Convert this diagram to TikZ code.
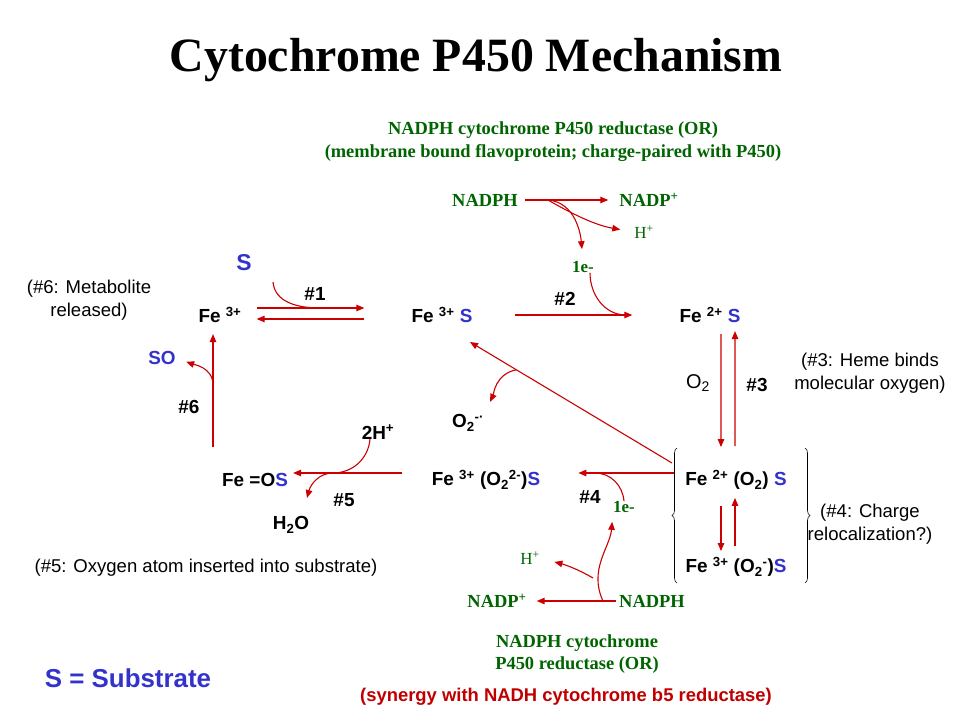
\documentclass[tikz,border=0pt]{standalone}
\usepackage{fontspec}
\setmainfont{Liberation Serif}
\setsansfont{Liberation Sans}
\usetikzlibrary{arrows.meta,decorations.pathreplacing}
\definecolor{sblue}{RGB}{51,51,204}
\definecolor{rxred}{RGB}{204,0,0}
\definecolor{orgreen}{RGB}{0,100,0}
\definecolor{synred}{RGB}{192,0,0}

\begin{document}
\begin{tikzpicture}[x=1bp, y=-1bp,
  every node/.style={inner sep=0pt, font=\sffamily\bfseries\fontsize{19}{22}\selectfont},
  rxline/.style={draw=rxred, line width=1.1bp},
  rxn/.style={rxline, -{Triangle[length=8bp,width=6.5bp]}},
  note/.style={align=center, font=\sffamily\fontsize{18.6}{22.5}\selectfont},
  enz/.style={text=orgreen, font=\rmfamily\bfseries\fontsize{18.5}{23}\selectfont},
  hion/.style={text=orgreen, font=\rmfamily\fontsize{17}{18}\selectfont},
  brk/.style={decorate, decoration={brace, amplitude=5bp}, line width=0.6bp}]

\path[use as bounding box, fill=white] (0,0) rectangle (960,720);

% -------- Title -----------
\node[font=\rmfamily\bfseries\fontsize{48}{50}\selectfont, anchor=base] (title)  at  (476, 72) {Cytochrome P450 Mechanism};

% -------- Reductase (top) -----------
\node[enz, align=center] (ortop)  at  (553, 142) {NADPH cytochrome P450 reductase (OR)\\(membrane bound flavoprotein; charge-paired with P450)};
\node[enz] (nadphA)  at  (485, 200) {NADPH};
\node[enz] (nadpA)  at  (649, 200) {NADP\textsuperscript{+}};
\node[hion] (hA)  at  (644, 232) {H\textsuperscript{+}};
\node[enz, font=\rmfamily\bfseries\fontsize{17}{20}\selectfont] (eA)  at  (583, 267) {1e-};

% -------- Cycle -----------
\node (fe3)  at  (220, 315) {Fe \textsuperscript{3+}};
\node[text=sblue, font=\sffamily\bfseries\fontsize{23}{26}\selectfont] (sub)  at  (244, 263) {S};
\node (fe3s)  at  (442, 315) {Fe \textsuperscript{3+} \textcolor{sblue}{S}};
\node (fe2s)  at  (710, 315) {Fe \textsuperscript{2+} \textcolor{sblue}{S}};
\node (fe2o2)  at  (736, 480) {Fe \textsuperscript{2+} (O\textsubscript{2}) \textcolor{sblue}{S}};
\node (fe3o2)  at  (736, 567) {Fe \textsuperscript{3+} (O\textsubscript{2}\textsuperscript{-})\textcolor{sblue}{S}};
\node (fe3o22)  at  (486, 480) {Fe \textsuperscript{3+} (O\textsubscript{2}\textsuperscript{2-})\textcolor{sblue}{S}};
\node (feos)  at  (255, 480) {Fe =O\textcolor{sblue}{S}};

\node (s1)  at  (315, 294) {\#1};
\node (s2)  at  (565, 299) {\#2};
\node (s3)  at  (757, 385) {\#3};
\node (s4)  at  (590, 497) {\#4};
\node (s5)  at  (344, 500) {\#5};
\node (s6)  at  (189, 407) {\#6};

\node[text=sblue] (so)  at  (162, 358) {SO};
\node (h2p)  at  (378, 432) {2H\textsuperscript{+}};
\node (h2o)  at  (291, 525) {H\textsubscript{2}O};
\node (o2r)  at  (468, 423) {O\textsubscript{2}\textsuperscript{-·}};
\node[font=\sffamily\fontsize{20}{22}\selectfont] (o2)  at  (698, 383) {O\textsubscript{2}};

% -------- Notes -----------
\node[note] (n6)  at  (89, 300) {(\#6: Metabolite\\released)};
\node[note] (n3)  at  (870, 373) {(\#3: Heme binds\\molecular oxygen)};
\node[note] (n4)  at  (870, 524) {(\#4: Charge\\relocalization?)};
\node[note] (n5)  at  (206, 568) {(\#5: Oxygen atom inserted into substrate)};

% -------- Reductase (bottom) -----------
\node[enz] (nadphB)  at  (652, 601) {NADPH};
\node[enz] (nadpB)  at  (497, 601) {NADP\textsuperscript{+}};
\node[hion] (hB)  at  (530, 558) {H\textsuperscript{+}};
\node[enz, font=\rmfamily\bfseries\fontsize{17}{20}\selectfont] (eB)  at  (624, 507) {1e-};
\node[enz, align=center, font=\rmfamily\bfseries\fontsize{18.5}{21.5}\selectfont] (orbot)  at  (577, 654) {NADPH cytochrome\\P450 reductase (OR)};
\node[text=synred, font=\sffamily\bfseries\fontsize{18.5}{20}\selectfont] (syn)  at  (566, 697) {(synergy with NADH cytochrome b5 reductase)};
\node[text=sblue, font=\sffamily\bfseries\fontsize{26}{28}\selectfont] (key)  at  (128, 678) {S = Substrate};

% -------- Free ends -----------
\coordinate (bA)  at  (548, 200);
\coordinate (sIn)  at  (273, 282);
\coordinate (j1)  at  (320, 308);
\coordinate (j2)  at  (626, 315);
\coordinate (c6)  at  (213, 447);
\coordinate (c6b)  at  (213, 385);
\coordinate (dgs)  at  (672, 463);
\coordinate (dgt)  at  (470, 342);
\coordinate (c4)  at  (595, 473);
\coordinate (c5)  at  (333, 473);
\coordinate (h2otip)  at  (307, 498);
\coordinate (bB)  at  (603, 601);
\coordinate (bB2)  at  (593, 578);

% -------- Arrows -----------
\draw[rxn, shorten <=7bp, shorten >=11bp] (nadphA.east) -- (nadpA.west);
\draw[rxn, shorten >=12bp] (bA) to[out=-5, in=95] (eA.north);
\draw[rxn, shorten >=14bp] (bA) to[out=-30, in=170] (hA.west);
\draw[rxline] ([xshift=7bp]eA.south) to[out=-90, in=180] (j2);

\draw[rxn, shorten <=15bp, shorten >=47bp] ([yshift=7bp]fe3.east) -- ([yshift=7bp]fe3s.west);
\draw[rxn, shorten <=47bp, shorten >=15bp] ([yshift=-4bp]fe3s.west) -- ([yshift=-4bp]fe3.east);
\draw[rxline] (sIn) to[out=-85, in=180] (j1);

\draw[rxn, shorten <=42bp, shorten >=47bp] (fe3s.east) -- (fe2s.west);

\draw[rxn, shorten <=11bp, shorten >=23bp] ([xshift=11bp]fe2s.south) -- ([xshift=-15bp]fe2o2.north);
\draw[rxn, shorten <=24bp, shorten >=8bp] ([xshift=-1bp]fe2o2.north) -- ([xshift=25bp]fe2s.south);

\draw[rxn, shorten <=16bp, shorten >=6bp] ([xshift=-15bp]fe2o2.south) -- ([xshift=-15bp]fe3o2.north);
\draw[rxn, shorten <=11bp, shorten >=8bp] ([xshift=-1bp]fe3o2.north) -- ([xshift=-1bp]fe2o2.south);

\draw[brk] (677, 583) -- (677, 448);
\draw[brk] (805, 448) -- (805, 583);

\draw[rxn] (dgs) -- coordinate[pos=0.77] (dgm) (dgt);
\draw[rxn, shorten >=14bp] (dgm) to[out=190, in=65] (o2r.north east);

\draw[rxn, shorten <=11bp, shorten >=38bp] ([yshift=7bp]fe2o2.west) -- ([yshift=7bp]fe3o22.east);
\draw[rxline] (eB.north) to[out=95, in=0] (c4);

\draw[rxn, shorten <=3bp, shorten >=10bp] (nadphB.west) -- (nadpB.east);
\draw[rxn, shorten >=9bp] (bB) to[out=115, in=-95] (eB.south west);
\draw[rxn, shorten >=15bp] (bB2) to[out=150, in=-15] (hB.east);

\draw[rxn, shorten <=30bp, shorten >=5bp] ([yshift=7bp]fe3o22.west) -- ([yshift=7bp]feos.east);
\draw[rxn] ([xshift=-8bp]h2p.south) to[out=-95, in=0] (c5) to[out=180, in=75] (h2otip);

\draw[rxn, shorten >=11bp] (c6) -- (c6 |- fe3.south);
\draw[rxn, shorten >=11bp] (c6b) to[out=90, in=-20] (so.east);

\end{tikzpicture}
\end{document}
